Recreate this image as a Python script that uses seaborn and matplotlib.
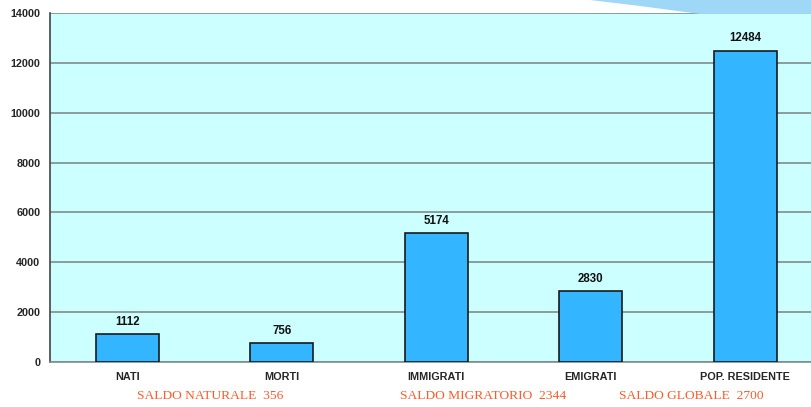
import pandas as pd
import seaborn as sns
import matplotlib.pyplot as plt
from matplotlib.patches import Polygon

categorie = ["NATI", "MORTI", "IMMIGRATI", "EMIGRATI", "POP. RESIDENTE"]
valori = [1112, 756, 5174, 2830, 12484]
saldi = ["SALDO NATURALE  356", "SALDO MIGRATORIO  2344", "SALDO GLOBALE  2700"]
saldi_x = [210, 483, 691]

df = pd.DataFrame({"cat": categorie, "val": valori})

sns.set_style("white")
plt.rcParams['font.family'] = ['Liberation Sans', 'DejaVu Sans']

fig = plt.figure(figsize=(8.11, 4.07), dpi=100)

# decorative swoosh in the top right corner
W, H = 811, 407
swoosh = Polygon([(590 / W, 1), (811 / W, 1), (811 / W, 1 - 14 / H),
                  (700 / W, 1 - 14 / H), (640 / W, 1 - 6 / H)],
                 closed=True, transform=fig.transFigure,
                 facecolor="#9fd8f7", edgecolor="none")
fig.patches.append(swoosh)

ax = fig.add_axes([50 / W, 45 / H, 761 / W, 349 / H])
ax.set_facecolor("#CCFFFF")

sns.barplot(x="cat", y="val", data=df, color="#33B5FF", saturation=1,
            width=0.41, edgecolor="#1a1a1a", linewidth=1.2, ax=ax, zorder=3)

for i, v in enumerate(valori):
    ax.text(i, v + 260, str(v), ha="center", va="bottom",
            fontsize=8.3, fontweight="bold", color="#111111")

ax.set_ylim(0, 14000)
ax.set_xlim(-0.5, -0.5 + 761 / 154.5)
ax.set_yticks(range(0, 14001, 2000))
ax.yaxis.grid(True, color="#7f8c8c", linewidth=1.2, zorder=0)
ax.set_axisbelow(True)
ax.set_xlabel("")
ax.set_ylabel("")
ax.tick_params(axis="both", labelsize=7.8, length=3, color="#555555", pad=4)
ax.tick_params(axis="x", length=0, pad=7)
for lab in ax.get_xticklabels() + ax.get_yticklabels():
    lab.set_fontweight("bold")
ax.set_xticks([i + 0.5 for i in range(4)], minor=True)
ax.tick_params(axis="x", which="minor", length=3, color="#555555", direction="in")

for s in ["top", "right"]:
    ax.spines[s].set_visible(False)
ax.spines["left"].set_color("#444444")
ax.spines["bottom"].set_color("#7f8c8c")
ax.spines["left"].set_linewidth(1.2)
ax.spines["bottom"].set_linewidth(1.2)

for t, x in zip(saldi, saldi_x):
    fig.text(x / W, 1 - 396 / H, t, ha="center", va="center",
             fontsize=9.7, color="#FF5A2A", family=["Liberation Serif"])

fig.savefig("out.png", dpi=100)
